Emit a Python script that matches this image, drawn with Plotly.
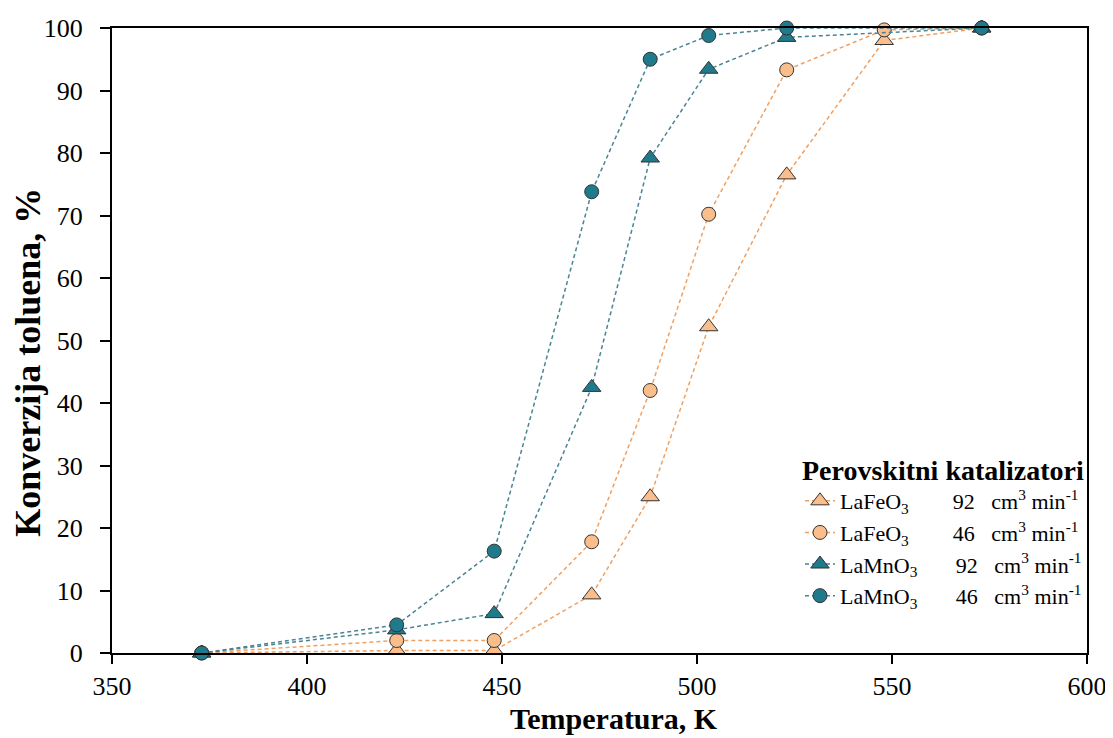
import plotly.graph_objects as go

temp_fe = [373, 423, 448, 473, 488, 503, 523, 548, 573]
fe92 = [0, 0.4, 0.4, 9.3, 25.0, 52.2, 76.5, 98.0, 100]
fe46 = [0, 2.0, 2.0, 17.8, 42.0, 70.2, 93.3, 99.7, 100]

temp_mn = [373, 423, 448, 473, 488, 503, 523, 573]
mn92 = [0, 3.7, 6.3, 42.5, 79.2, 93.4, 98.5, 100]
mn46 = [0, 4.5, 16.3, 73.8, 95.0, 98.8, 100, 100]

x_ticks = [350, 400, 450, 500, 550, 600]
y_ticks = [0, 10, 20, 30, 40, 50, 60, 70, 80, 90, 100]

NB = "\u00a0"
names = [
    "LaFeO<sub>3</sub>" + NB * 8 + "92" + NB * 3 + "cm<sup>3</sup> min<sup>-1</sup>",
    "LaFeO<sub>3</sub>" + NB * 8 + "46" + NB * 3 + "cm<sup>3</sup> min<sup>-1</sup>",
    "LaMnO<sub>3</sub>" + NB * 7 + "92" + NB * 3 + "cm<sup>3</sup> min<sup>-1</sup>",
    "LaMnO<sub>3</sub>" + NB * 7 + "46" + NB * 3 + "cm<sup>3</sup> min<sup>-1</sup>",
]

orange_line = "#F0A060"
orange_fill = "#F9BE8C"
teal_line = "#4A8494"
teal_fill = "#1F7A8C"
edge = "#333333"

fig = go.Figure()
series = [
    (temp_fe, fe92, names[0], orange_line, orange_fill, "triangle-up"),
    (temp_fe, fe46, names[1], orange_line, orange_fill, "circle"),
    (temp_mn, mn92, names[2], teal_line, teal_fill, "triangle-up"),
    (temp_mn, mn46, names[3], teal_line, teal_fill, "circle"),
]
for x, y, nm, lc, fc, sym in series:
    fig.add_trace(go.Scatter(
        x=x, y=y, name=nm, mode="lines+markers",
        line=dict(color=lc, width=1.5, dash="4px,3px"),
        marker=dict(symbol=sym, size=16 if sym == "triangle-up" else 14,
                    color=fc, line=dict(color=edge, width=1)),
        cliponaxis=False,
    ))

font_family = "Liberation Serif, Times New Roman, serif"
fig.update_layout(
    width=1105, height=730,
    margin=dict(l=104, r=26, t=20, b=85),
    paper_bgcolor="white", plot_bgcolor="white",
    font=dict(family=font_family, size=20, color="black"),
    showlegend=True,
    legend=dict(
        title=dict(text="<b>Perovskitni katalizatori</b>", font=dict(size=28, family=font_family)),
        x=1.0, xanchor="right", y=0.335, yanchor="top",
        bgcolor="rgba(0,0,0,0)", borderwidth=0,
        font=dict(size=22, family=font_family),
        tracegroupgap=0, itemwidth=30,
    ),
    xaxis=dict(
        range=[350, 600], tickmode="array", tickvals=x_ticks,
        showgrid=False, zeroline=False, automargin=False,
        showline=True, linecolor="black", linewidth=2, mirror=True,
        ticks="outside", ticklen=9, tickwidth=2, tickcolor="black",
        tickfont=dict(size=26),
    ),
    yaxis=dict(
        range=[0, 100], tickmode="array", tickvals=y_ticks,
        showgrid=False, zeroline=False, automargin=False,
        showline=True, linecolor="black", linewidth=2, mirror=True,
        ticks="outside", ticklen=10, tickwidth=2, tickcolor="black",
        tickfont=dict(size=26), ticklabelstandoff=12,
    ),
    annotations=[
        dict(text="<b>Temperatura, K</b>", xref="paper", yref="paper",
             x=0.515, y=-0.104, xanchor="center", yanchor="middle",
             showarrow=False, font=dict(size=30)),
        dict(text="<b>Konverzija toluena, %</b>", xref="paper", yref="paper",
             x=-0.0862, y=0.466, xanchor="center", yanchor="middle",
             textangle=-90, showarrow=False, font=dict(size=36)),
    ],
)

fig.write_html("out.html")
